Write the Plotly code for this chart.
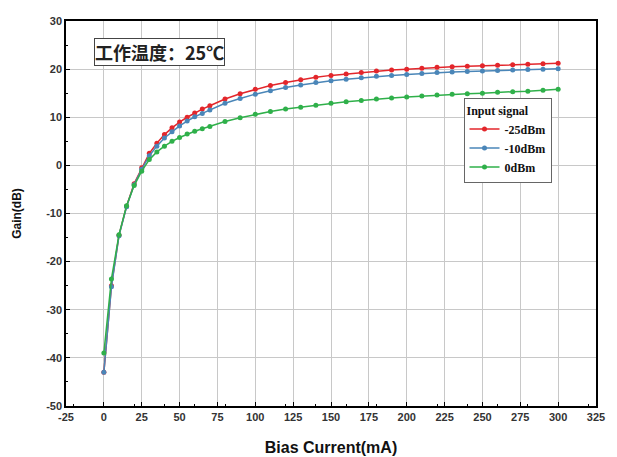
import plotly.graph_objects as go

bias_current = [0, 5, 10, 15, 20, 25, 30, 35, 40, 45, 50, 55, 60, 65, 70,
                80, 90, 100, 110, 120, 130, 140, 150, 160, 170, 180, 190, 200,
                210, 220, 230, 240, 250, 260, 270, 280, 290, 300]

gain_m25 = [-43, -25, -14.5, -8.5, -3.8, -0.5, 2.5, 4.6, 6.4, 7.8, 9.0, 10.0, 10.9, 11.7, 12.4,
            13.8, 14.9, 15.8, 16.6, 17.2, 17.8, 18.3, 18.7, 19.0, 19.3, 19.6, 19.8, 20.0,
            20.2, 20.4, 20.5, 20.6, 20.7, 20.8, 20.9, 21.0, 21.1, 21.2]

gain_m10 = [-43, -25.2, -14.6, -8.6, -4.0, -0.8, 2.0, 4.0, 5.7, 7.0, 8.2, 9.2, 10.1, 10.8, 11.5,
            12.9, 13.9, 14.8, 15.5, 16.2, 16.7, 17.2, 17.6, 17.9, 18.2, 18.5, 18.7, 18.9,
            19.1, 19.3, 19.4, 19.5, 19.6, 19.7, 19.8, 19.9, 20.0, 20.1]

gain_0 = [-39, -23.6, -14.4, -8.4, -4.2, -1.2, 1.2, 2.8, 4.0, 5.0, 5.8, 6.5, 7.1, 7.6, 8.1,
          9.1, 9.9, 10.6, 11.2, 11.7, 12.1, 12.5, 12.9, 13.2, 13.5, 13.8, 14.0, 14.2,
          14.4, 14.6, 14.8, 14.9, 15.0, 15.2, 15.3, 15.4, 15.6, 15.8]

series_names = ["-25dBm", "-10dBm", "0dBm"]
series_colors = ["#e3262b", "#4a86b8", "#2fb04a"]
x_ticks = [-25, 0, 25, 50, 75, 100, 125, 150, 175, 200, 225, 250, 275, 300, 325]
y_ticks = [-50, -40, -30, -20, -10, 0, 10, 20, 30]

fig = go.Figure()
for name, ys, col in zip(series_names, [gain_m25, gain_m10, gain_0], series_colors):
    fig.add_trace(go.Scatter(
        x=bias_current, y=ys, name="<b>" + name + "</b>", mode="lines+markers",
        line=dict(color=col, width=1.5),
        marker=dict(color=col, size=5, symbol="circle"),
    ))

axis_common = dict(
    showline=True, linecolor="black", linewidth=1.5, mirror=True,
    ticks="inside", ticklen=4, tickcolor="black",
    showgrid=True, gridcolor="#c8c8c8", gridwidth=1,
    zeroline=False,
    tickfont=dict(family="Arial, Liberation Sans, sans-serif", size=11, color="#333"),
    ticklabeloverflow="allow",
    minor=dict(ticks="inside", ticklen=2, tickcolor="black"),
)

fig.update_xaxes(range=[-25, 325], tickvals=x_ticks,
                 ticktext=["<b>%d</b>" % v for v in x_ticks],
                 title=dict(text="<b>Bias Current(mA)</b>", font=dict(family="Arial, Liberation Sans", size=16, color="#111"), standoff=20),
                 **axis_common)
fig.update_yaxes(range=[-50, 30], tickvals=y_ticks,
                 ticktext=["<b>%d</b>" % v for v in y_ticks],
                 title=dict(text="<b>Gain(dB)</b>", font=dict(family="Arial, Liberation Sans", size=12, color="#111"), standoff=22),
                 **axis_common)

fig.add_annotation(
    xref="paper", yref="paper", x=0.052, y=0.956, xanchor="left", yanchor="top",
    text="<b>工作温度：25℃</b>", showarrow=False,
    font=dict(family="Noto Sans CJK SC, Liberation Serif", size=18, color="#222"),
    bordercolor="#444", borderwidth=1, borderpad=0, bgcolor="white",
)

fig.update_layout(
    width=617, height=457,
    margin=dict(l=58, r=29, t=7, b=59),
    paper_bgcolor="white", plot_bgcolor="white",
    legend=dict(
        x=0.75, y=0.80, xanchor="left", yanchor="top",
        title=dict(text="<b>Input signal</b>", font=dict(family="Liberation Serif, serif", size=12, color="#111")),
        font=dict(family="Liberation Serif, serif", size=12, color="#111"),
        bordercolor="#666", borderwidth=1, bgcolor="white",
        tracegroupgap=0, itemwidth=30,
    ),
)

fig.write_html("out.html")
